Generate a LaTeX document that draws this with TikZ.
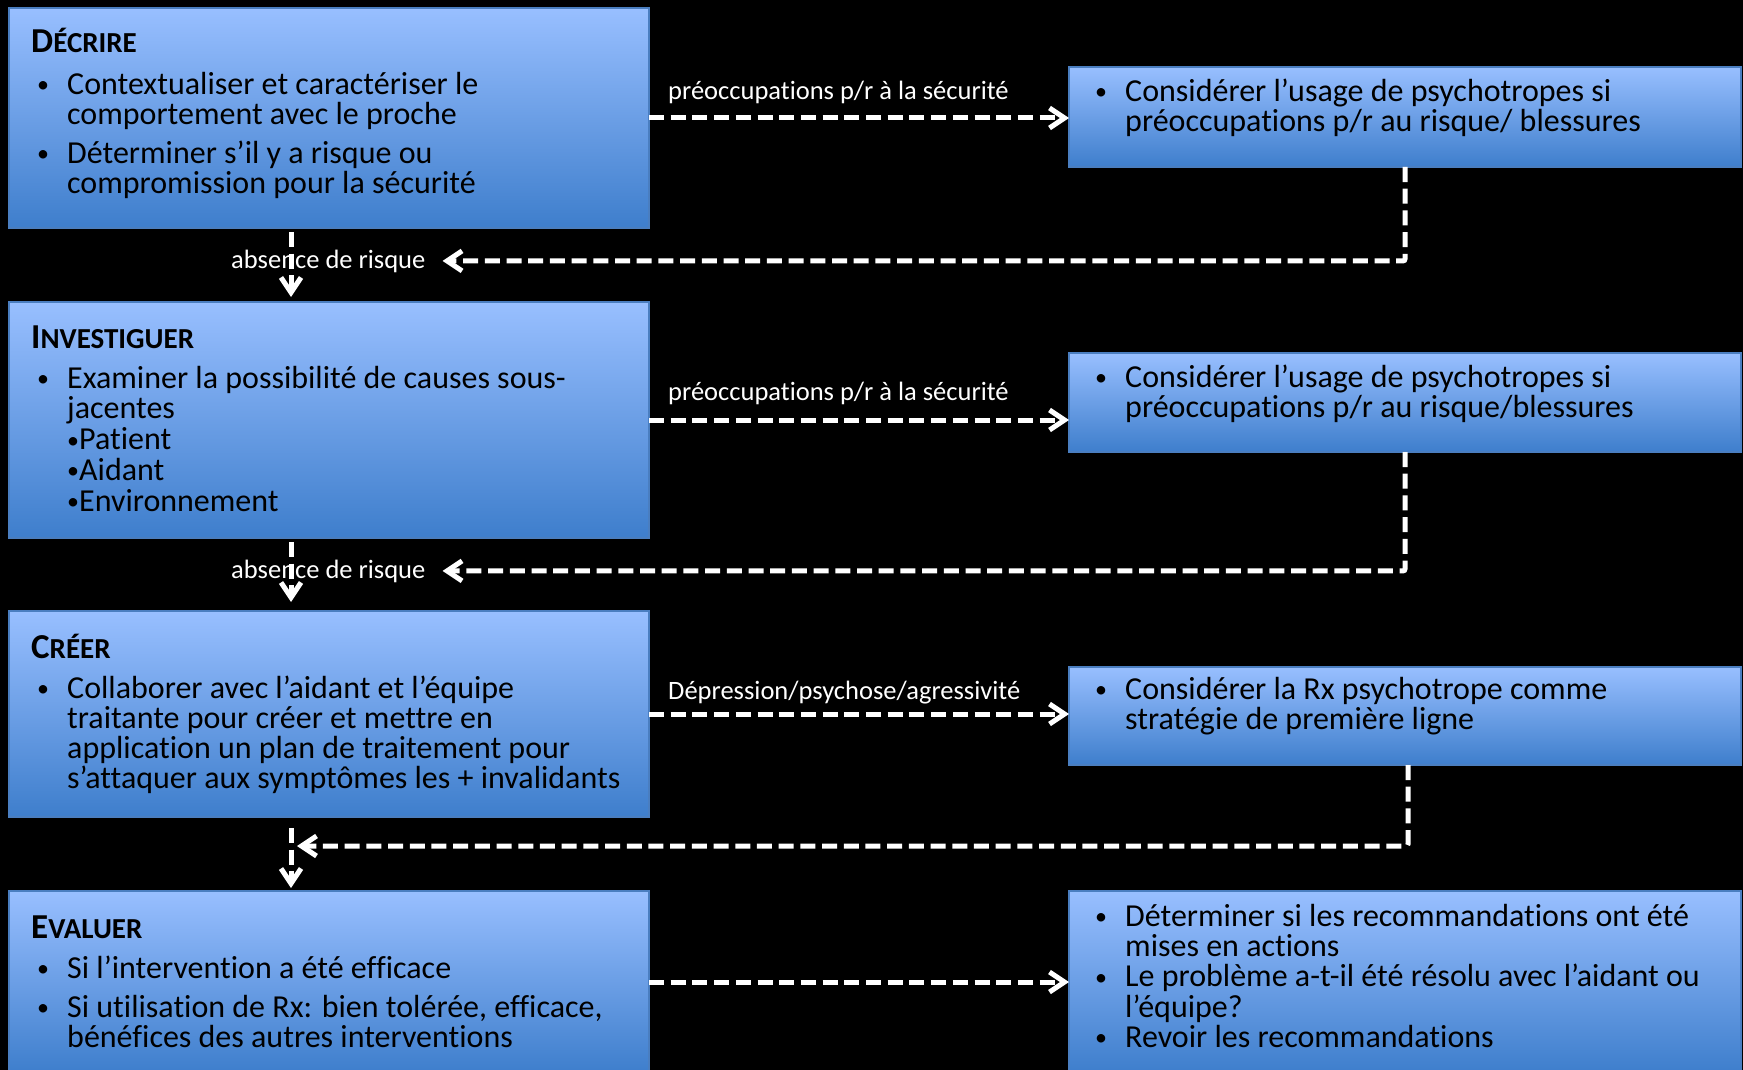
\documentclass[tikz,border=0pt]{standalone}
\usepackage{fontspec}
\setmainfont{Carlito}[Ligatures={NoCommon}]
\usetikzlibrary{arrows.meta}
\definecolor{boxtop}{RGB}{152,191,255}
\definecolor{boxbot}{RGB}{62,126,204}
\definecolor{boxedge}{RGB}{74,126,192}
\newcommand\mydot{\raisebox{1.5pt}{\fontsize{24}{24}\selectfont •}}
\newcommand\mybul{\makebox[30pt][l]{\mydot}}
\newcommand\myind{\hspace*{30pt}}
\newcommand\myst{\rule{0pt}{30pt}}
\newcommand\myttl[2]{{\bfseries\fontsize{35}{35}\selectfont #1\fontsize{29}{29}\selectfont #2}}
\begin{document}
\begin{tikzpicture}[x=1pt,y=-1pt,
  box/.style={draw=boxedge, line width=1.5pt, top color=boxtop, bottom color=boxbot,
    anchor=north west, inner sep=0pt, outer sep=0pt},
  body/.style={anchor=north west, inner sep=0pt, align=left,
    font=\fontsize{32}{30}\selectfont, text=black},
  ttlnode/.style={anchor=base west, inner sep=0pt, text=black},
  lbl/.style={anchor=base west, inner sep=0pt, text=white,
    font=\fontsize{26.5}{30}\selectfont},
  flow/.style={draw=white, line width=5pt, dash pattern=on 15pt off 6.7pt,
    -{Straight Barb[length=15pt,width=20pt]}},
]
\fill[black] (0,0) rectangle (1743,1070);
\useasboundingbox (0,0) rectangle (1743,1070);
\clip (0,0) rectangle (1743,1070);

% left boxes
\node[box, minimum width=640pt, minimum height=220pt] (b1) at (9,8) {};
\node[box, minimum width=640pt, minimum height=236pt] (b2) at (9,302) {};
\node[box, minimum width=640pt, minimum height=206pt] (b3) at (9,611) {};
\node[box, minimum width=640pt, minimum height=182pt] (b4) at (9,891) {};
% right boxes
\node[box, minimum width=672pt, minimum height=100pt] (r1) at (1069,67) {};
\node[box, minimum width=672pt, minimum height=99pt] (r2) at (1069,353) {};
\node[box, minimum width=672pt, minimum height=98pt] (r3) at (1069,667) {};
\node[box, minimum width=672pt, minimum height=182pt] (r4) at (1069,891) {};

% titles
\node[ttlnode] (t1) at (31,53) {\myttl{D}{ÉCRIRE}};
\node[ttlnode] (t2) at (31,348) {\myttl{I}{NVESTIGUER}};
\node[ttlnode] (t3) at (31,658) {\myttl{C}{RÉER}};
\node[ttlnode] (t4) at (31,938) {\myttl{E}{VALUER}};

% body texts
\node[body] (x1) at (37,64) {\myst\mybul Contextualiser et caractériser le\\
  \myind comportement avec le proche\\[9pt]
  \mybul Déterminer s’il y a risque ou\\
  \myind compromission pour la sécurité};
\node[body, font=\fontsize{32}{30.7}\selectfont] (x2) at (37,358) {\myst\mybul Examiner la possibilité de causes sous-\\
  \myind jacentes\\
  \myind \mydot Patient\\
  \myind \mydot Aidant\\
  \myind \mydot Environnement};
\node[body] (x3) at (37,668) {\myst\mybul Collaborer avec l’aidant et l’équipe\\
  \myind traitante pour créer et mettre en\\
  \myind application un plan de traitement pour\\
  \myind s’attaquer aux symptômes les + invalidants};
\node[body] (x4) at (37,948) {\myst\mybul Si l’intervention a été efficace\\[9pt]
  \mybul Si utilisation de Rx: bien tolérée, efficace,\\
  \myind bénéfices des autres interventions};

\node[body] (y1) at (1095,71) {\myst\mybul Considérer l’usage de psychotropes si\\
  \myind préoccupations p/r au risque/ blessures};
\node[body] (y2) at (1095,357) {\myst\mybul Considérer l’usage de psychotropes si\\
  \myind préoccupations p/r au risque/blessures};
\node[body] (y3) at (1095,669) {\myst\mybul Considérer la Rx psychotrope comme\\
  \myind stratégie de première ligne};
\node[body, font=\fontsize{32}{30.3}\selectfont] (y4) at (1095,896) {\myst\mybul Déterminer si les recommandations ont été\\
  \myind mises en actions\\
  \mybul Le problème a-t-il été résolu avec l’aidant ou\\
  \myind l’équipe?\\
  \mybul Revoir les recommandations};

% labels
\node[lbl] (l1) at (668,100) {préoccupations p/r à la sécurité};
\node[lbl] (l2) at (668,400) {préoccupations p/r à la sécurité};
\node[lbl] (l3) at (668,699) {Dépression/psychose/agressivité};
\coordinate (j3) at (291,846);

% connectors
\draw[flow] (b1.east) -- (b1.east -| r1.west);
\draw[flow] (b2.east) -- (b2.east -| r2.west);
\draw[flow] (b3.east) -- (b3.east -| r3.west);
\draw[flow] (b4.east) -- (b4.east -| r4.west);

\draw[flow] ([xshift=-38pt,yshift=-4pt]b1.south) -- ([xshift=-38pt,yshift=5pt]b2.north);
\draw[flow] ([xshift=-38pt,yshift=-4pt]b2.south) -- ([xshift=-38pt,yshift=9pt]b3.north);
\draw[flow] ([xshift=-38pt,yshift=-11pt]b3.south) -- ([xshift=-38pt,yshift=3pt]b4.north);

\node[lbl] (a1) at (231,268) {absence de risque};
\node[lbl] (a2) at (231,578) {absence de risque};

\draw[flow, rounded corners=2pt] (r1.south) |- ([xshift=17pt]a1.east);
\draw[flow, rounded corners=2pt] (r2.south) |- ([xshift=17pt]a2.east);
\draw[flow, rounded corners=2pt, shorten >=6pt] ([xshift=3pt]r3.south) |- (j3);
\end{tikzpicture}
\end{document}
